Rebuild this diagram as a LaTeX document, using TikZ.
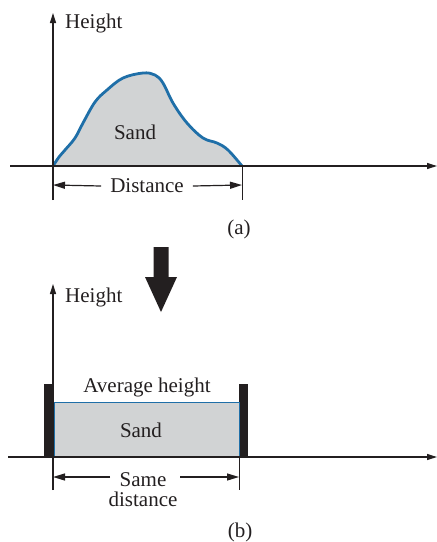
\documentclass[tikz,border=0pt]{standalone}
\usepackage{fontspec}
\setmainfont{Liberation Serif}
\usetikzlibrary{arrows.meta}
\definecolor{sandgray}{HTML}{D1D3D4}
\definecolor{sandblue}{HTML}{1F6FA8}
\definecolor{ink}{HTML}{231F20}
\begin{document}
\begin{tikzpicture}[x=1pt,y=-1pt,
  axis/.style={draw=ink,line width=1.3pt,-{Triangle[length=10pt,width=6pt]}},
  tick/.style={draw=ink,line width=1pt},
  dim/.style={draw=ink,line width=1.2pt,-{Triangle[length=12pt,width=7pt]}},
  lbl/.style={font=\fontsize{21}{24}\selectfont,text=ink,inner sep=0pt},
  bar/.style={fill=ink,draw=none}]
\useasboundingbox (0,0) rectangle (437,542);
\def\sandcurve{(53,166) (59,157) (65,150) (75,138) (83,123) (95,102) (107,90) (123,78) (143,73) (155,75) (163,83) (173,103) (187,123) (203,138) (217,143) (228,150) (242,166)}
% ---------- (a) ----------
\coordinate (a0) at (53,166);
\coordinate (ayt) at (53,13);
\coordinate (axl) at (10,166);
\coordinate (axr) at (437,166);
\coordinate (aend) at (242,166);
\coordinate (atl) at (53,200);
\coordinate (atr) at (242,200);
\fill[sandgray] plot[smooth,tension=0.6] coordinates {\sandcurve} -- cycle;
\draw[sandblue,line width=2.8pt] plot[smooth,tension=0.6] coordinates {\sandcurve};
\draw[axis] (axl) -- (axr);
\draw[axis] (atl) -- (ayt);
\draw[tick] (aend) -- (atr);
\node[lbl,anchor=west] (ha) at (65,23) {Height};
\node[lbl] (sanda) at (135,132) {Sand};
\node[lbl] (dista) at (147,186) {Distance};
\coordinate (dl) at (53,185);
\coordinate (dr) at (242,185);
\draw[dim] (dista.west) ++(-9,0) -- (dl);
\draw[dim] (dista.east) ++(9,0) -- (dr);
\node[lbl] (capa) at (239,229) {(a)};
% ---------- big arrow ----------
\node[coordinate] (bt) at (161,247) {};
\node[coordinate] (bb) at (161,312) {};
\fill[ink] (153.5,247) -- (168.5,247) -- (168.5,277) -- (177,277) -- (161,312) -- (145,277) -- (153.5,277) -- cycle;
% ---------- (b) ----------
\coordinate (bxl) at (8,457);
\coordinate (bxr) at (437,457);
\coordinate (byt) at (53,284);
\coordinate (btl) at (53,490);
\coordinate (btr) at (239,490);
\coordinate (bend) at (239,457);
\fill[bar] (44,384) rectangle (54,457);
\fill[bar] (238.5,384) rectangle (248,457);
\node[draw=sandblue,fill=sandgray,line width=1pt,minimum width=185pt,minimum height=55pt,inner sep=0pt,anchor=north west] (rect) at (54,402) {};
\node[lbl] (sandb) at (141,430) {Sand};
\node[lbl] (avg) at (147,387) {Average height};
\draw[axis] (bxl) -- (bxr);
\draw[axis] (btl) -- (byt);
\draw[tick] (bend) -- (btr);
\node[lbl,anchor=west] (hb) at (65,297) {Height};
\node[lbl,align=center,font=\fontsize{21}{20}\selectfont] (same) at (143,490) {Same\\distance};
\coordinate (sl) at (53,477);
\coordinate (sr) at (239,477);
\draw[dim] (110,477) -- (sl);
\draw[dim] (180,477) -- (sr);
\node[lbl] (capb) at (240,532) {(b)};
\end{tikzpicture}
\end{document}
